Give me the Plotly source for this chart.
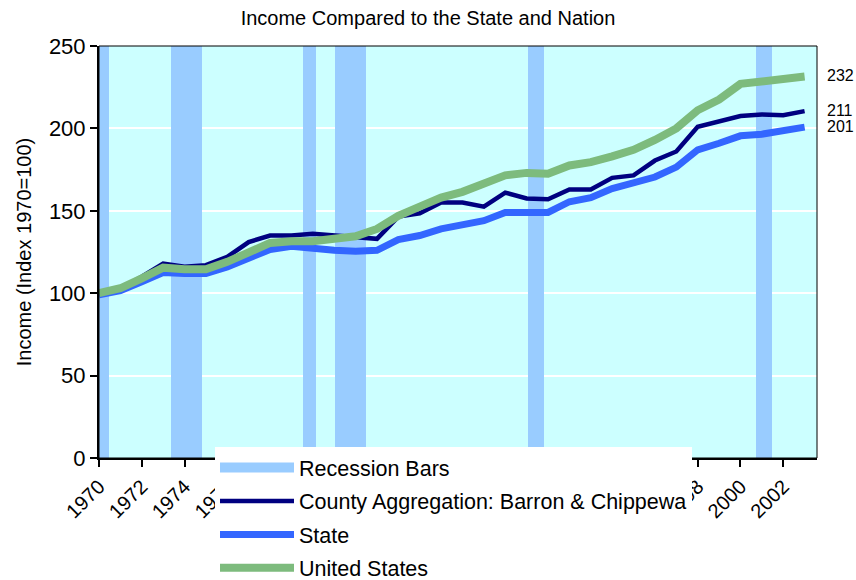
import plotly.graph_objects as go

years = [1970, 1971, 1972, 1973, 1974, 1975, 1976, 1977, 1978, 1979,
         1980, 1981, 1982, 1983, 1984, 1985, 1986, 1987, 1988, 1989,
         1990, 1991, 1992, 1993, 1994, 1995, 1996, 1997, 1998, 1999,
         2000, 2001, 2002, 2003]

county = [100, 103, 110, 118, 116, 117, 122, 131, 135, 135,
          136, 135, 134.5, 133, 146.5, 148.5, 155, 155, 152.5, 161,
          157.5, 157, 163, 163, 170, 171.5, 180.5, 186, 201, 204,
          207.5, 208.5, 208, 210.5]

state = [99, 101.5, 107, 112.5, 112, 112, 116, 121, 126.5, 128.5,
         127, 126, 125.5, 126, 132.5, 135, 139, 141.5, 144, 149,
         149.5, 149, 155.5, 158, 163.5, 166.5, 170.5, 176.5, 187, 191,
         195.5, 196.5, 198.5, 200.8]

us = [100, 103, 109, 115.5, 114.5, 114.5, 119, 125, 130.5, 131.5,
      131.5, 133, 134.5, 139, 147, 152.5, 158, 161.5, 166.5, 171.5,
      173, 172.5, 177.5, 179.5, 183, 187, 193, 200, 211, 217.5,
      227, 228.5, 229.5, 231.5]

recession_start = [1969.42, 1973.37, 1979.53, 1981.04, 1990.07, 2000.74]
recession_end = [1970.47, 1974.81, 1980.15, 1982.49, 1990.82, 2001.49]
recession_top = 250

end_labels = ["232", "211", "201"]
end_label_values = [232, 211, 201]

tick_years = [1970, 1972, 1974, 1976, 1978, 1980, 1982, 1984, 1986, 1988,
              1990, 1992, 1994, 1996, 1998, 2000, 2002]

FONT = "Liberation Sans, Arial, sans-serif"

W, H = 856, 580
PL, PR, PT, PB = 99, 856 - 817, 46, 580 - 458
PLOT_W, PLOT_H = 817 - 99, 458 - 46

rec_x = [(s + e) / 2 for s, e in zip(recession_start, recession_end)]
rec_w = [e - s for s, e in zip(recession_start, recession_end)]

fig = go.Figure()
fig.add_trace(go.Bar(
    x=rec_x, y=[recession_top] * len(rec_x), width=rec_w,
    marker=dict(color="#99CCFF", line=dict(width=0)),
    name="Recession Bars", showlegend=False, hoverinfo="skip"))
# legend entry for the recession bars (wide block symbol)
fig.add_trace(go.Scatter(
    x=[None], y=[None], mode="lines", name="Recession Bars",
    line=dict(color="#99CCFF", width=18), legendgroup="a"))
fig.add_trace(go.Scatter(
    x=years, y=county, mode="lines", name="County Aggregation: Barron & Chippewa",
    line=dict(color="#000080", width=4.5), legendgroup="b"))
fig.add_trace(go.Scatter(
    x=years, y=state, mode="lines", name="State",
    line=dict(color="#3366FF", width=7), legendgroup="c"))
fig.add_trace(go.Scatter(
    x=years, y=us, mode="lines", name="United States",
    line=dict(color="#7DBB7D", width=8), legendgroup="d"))

annotations = []
for t, v in zip(end_labels, end_label_values):
    annotations.append(dict(x=1.011, xref="paper", y=v, yref="y", text=t,
                            showarrow=False, xanchor="left", yanchor="middle",
                            font=dict(family=FONT, size=16, color="black")))

fig.update_layout(
    width=W, height=H,
    margin=dict(l=PL, r=PR, t=PT, b=PB, autoexpand=False),
    paper_bgcolor="white", plot_bgcolor="#CCFFFF",
    font=dict(family=FONT, color="black"),
    title=dict(text="Income Compared to the State and Nation", x=0.5, xanchor="center",
               y=1 - 18 / H, yanchor="middle", yref="container",
               font=dict(family=FONT, size=20, color="black")),
    showlegend=True,
    legend=dict(x=(215 - 99) / PLOT_W, y=(458 - 447) / PLOT_H, xanchor="left", yanchor="top",
                bgcolor="white", borderwidth=0, tracegroupgap=2.5, itemwidth=74,
                font=dict(family=FONT, size=21.5, color="black"), traceorder="grouped"),
    bargap=0,
    annotations=annotations,
    shapes=[dict(type="rect", xref="paper", yref="paper", x0=0, y0=0, x1=1, y1=1,
                 line=dict(color="black", width=1), fillcolor="rgba(0,0,0,0)", layer="above")],
)

fig.update_xaxes(
    range=[1970, 2003.58], tickmode="array", tickvals=tick_years,
    ticktext=[str(y) for y in tick_years], tickangle=-45,
    ticks="outside", ticklen=7, tickwidth=2, tickcolor="black",
    showline=True, linecolor="black", linewidth=2, showgrid=False, zeroline=False,
    tickfont=dict(family=FONT, size=20, color="black"))
fig.update_yaxes(
    range=[0, 250], tickmode="array", tickvals=[0, 50, 100, 150, 200, 250],
    ticks="outside", ticklen=7, tickwidth=2, tickcolor="black",
    showline=True, linecolor="black", linewidth=2,
    showgrid=True, gridcolor="white", gridwidth=2, zeroline=False,
    tickfont=dict(family=FONT, size=22, color="black"),
    title=dict(text="Income (Index 1970=100)", font=dict(family=FONT, size=20, color="black"),
               standoff=12))

fig.write_html(
    "out.html",
    config={"displayModeBar": False},
    post_script="document.body.style.margin='0';document.body.style.overflow='hidden';",
)
